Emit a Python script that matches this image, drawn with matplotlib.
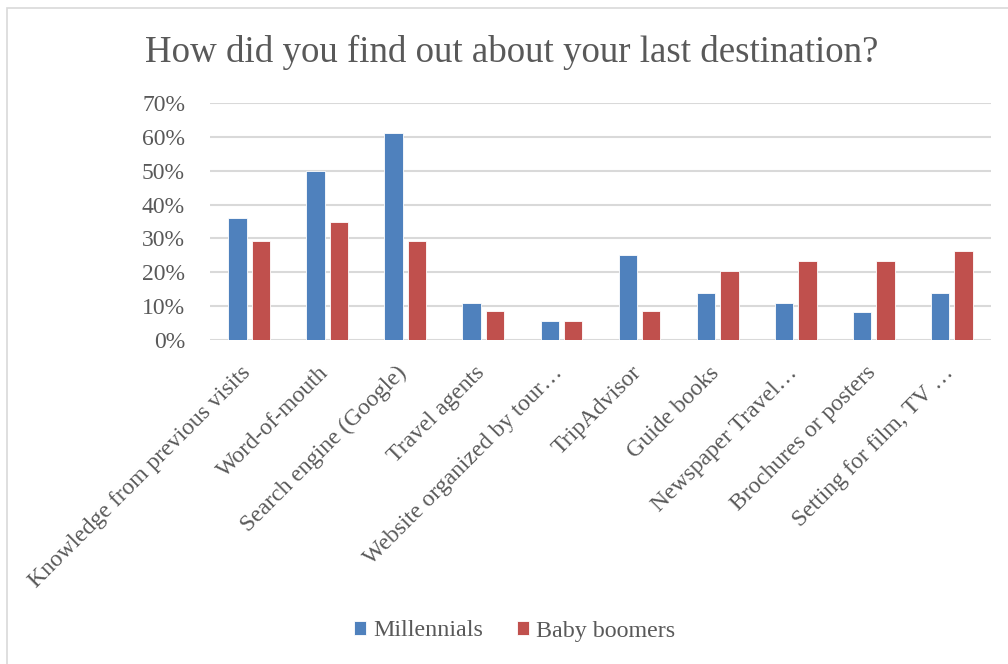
import matplotlib
matplotlib.use("Agg")
import matplotlib.pyplot as plt
import numpy as np
from matplotlib.patches import Rectangle
from matplotlib.transforms import ScaledTranslation

categories = [
    "Knowledge from previous visits",
    "Word-of-mouth",
    "Search engine (Google)",
    "Travel agents",
    "Website organized by tour\u2026",
    "TripAdvisor",
    "Guide books",
    "Newspaper Travel\u2026",
    "Brochures or posters",
    "Setting for film, TV \u2026",
]
millennials = [36, 50, 61, 11, 5.5, 25, 13.8, 11, 8.3, 13.8]
baby_boomers = [29.2, 35, 29.2, 8.6, 5.6, 8.6, 20.5, 23.4, 23.4, 26.4]
yticks = [0, 10, 20, 30, 40, 50, 60, 70]
series_names = ["Millennials", "Baby boomers"]

plt.rcParams['font.family'] = ['Liberation Serif', 'DejaVu Serif']
W, H = 1008, 664
fig = plt.figure(figsize=(W / 100, H / 100), dpi=100)
ax = fig.add_axes([210 / W, 1 - 340 / H, 781 / W, 237 / H])

x = np.arange(len(categories))
bw = 0.235
off = 0.15
blue = "#4F81BD"
red = "#C0504D"
ax.bar(x - off, millennials, bw, color=blue, edgecolor="white", linewidth=0.6, label=series_names[0], zorder=3)
ax.bar(x + off, baby_boomers, bw, color=red, edgecolor="white", linewidth=0.6, label=series_names[1], zorder=3)

ax.set_xlim(-0.5, len(categories) - 0.5)
ax.set_ylim(0, 70)
ax.set_yticks(yticks)
ax.set_yticklabels([f"{v}%" for v in yticks])
ax.grid(axis="y", color="#D9D9D9", linewidth=1.5, zorder=0)
for s in ax.spines.values():
    s.set_visible(False)
ax.tick_params(axis="both", length=0, labelsize=17, labelcolor="#595959")
ax.tick_params(axis="y", pad=18)
ax.set_xticks(x)
ax.set_xticklabels(categories, rotation=45, ha="right", va="top", rotation_mode="anchor")
ax.tick_params(axis="x", pad=16)
shift = ScaledTranslation(-9 / 100, 0, fig.dpi_scale_trans)
for lbl in ax.get_xticklabels():
    lbl.set_transform(lbl.get_transform() + shift)

fig.text(512 / W, 1 - 52 / H, "How did you find out about your last destination?",
         ha="center", va="center", fontsize=26.6, color="#595959")

leg = fig.legend(loc="center", bbox_to_anchor=(515 / W, 1 - 631 / H), ncol=2, frameon=False,
                 fontsize=17.3, handlelength=0.5, handleheight=0.5, handletextpad=0.3,
                 columnspacing=1.4)
for t in leg.get_texts():
    t.set_color("#595959")

fig.patches.append(Rectangle((7 / W, -0.1), 1.2, 1 - 8 / H + 0.1, transform=fig.transFigure,
                             fill=False, edgecolor="#D9D9D9", linewidth=1.2))

fig.savefig("out.png", dpi=100)
